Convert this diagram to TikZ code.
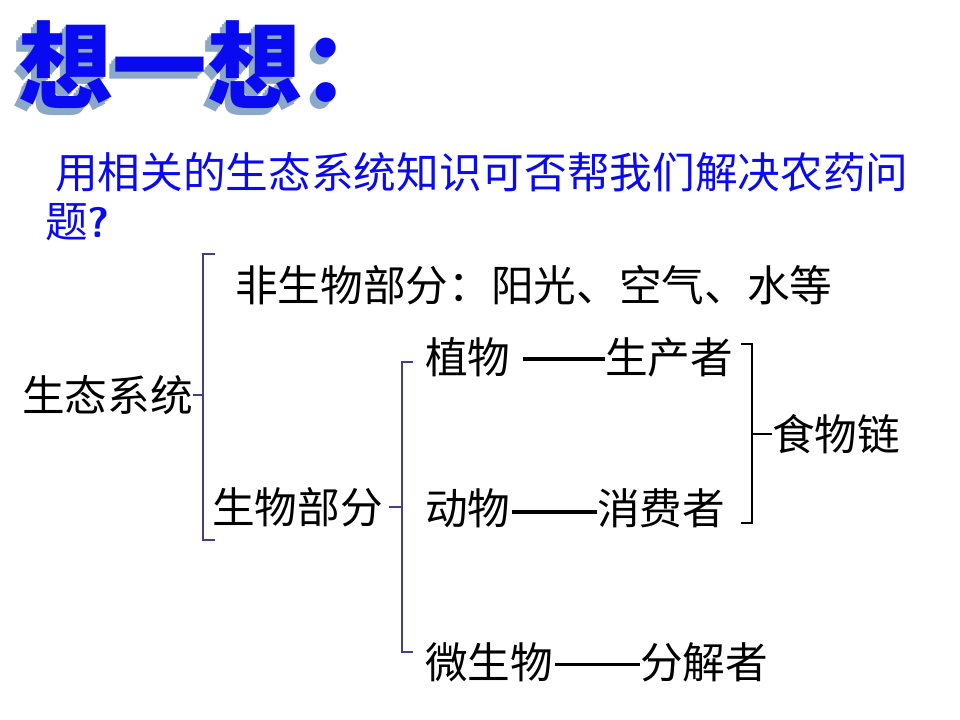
\documentclass[tikz,border=0pt]{standalone}
\usepackage{fontspec}
\newfontfamily\cjk{Noto Sans CJK SC}
\usetikzlibrary{positioning}
\definecolor{tBlue}{RGB}{10,10,240}
\definecolor{tShade}{RGB}{140,168,200}
\definecolor{bracePurple}{RGB}{70,62,140}
% one shifted copy of the heading, for its extruded shadow
\newcommand{\headlayer}[2]{\rlap{\kern#1\raisebox{#2}{\textcolor{tShade}{想一想：}}}}

\begin{document}
\begin{tikzpicture}[
	x=0.75pt,y=-0.75pt,
	txt/.style={anchor=west,inner sep=0pt,font=\cjk\fontsize{32}{36}\selectfont},
	head/.style={anchor=west,inner sep=0pt,font=\cjk\bfseries\fontsize{71}{80}\selectfont},
	brace/.style={draw=bracePurple,line width=1.1pt},
	rbrace/.style={draw=black,line width=1.5pt},
	dashline/.style={draw=black,line width=2.6pt}
	]
	\useasboundingbox (0,0) rectangle (960,720);
	\node[head,text=tBlue](title) at (18,68) {\headlayer{-4.5pt}{-5pt}\headlayer{-3pt}{-3.3pt}\headlayer{-1.5pt}{-1.6pt}想一想：};
	\node[txt,text=tBlue](q1) at (55,172) {用相关的生态系统知识可否帮我们解决农药问};
	\node[txt,text=tBlue](q2) at (45,222) {题\textbf{\sffamily ?}};
	% ecosystem tree
	\node[txt](sys) at (22,395) {生态系统};
	\node[txt](abio) at (235,285) {非生物部分：阳光、空气、水等};
	\node[txt](bio) at (212,507) {生物部分};
	\draw[brace] (215,254) -| (203,540) -- (215,540);
	\draw[brace] (sys.east) -- (sys.east -| 203,0);
	\node[txt](plant) at (425,357) {植物};
	\node[txt](animal) at (425,508) {动物};
	\node[txt](micro) at (425,662) {微生物};
	\draw[brace] (413,362) -| (402,652) -- (413,652);
	\draw[brace] (bio.east) ++(4pt,0) -- (402,507);
	\node[txt](prod) at (605,357) {生产者};
	\node[txt](cons) at (597,508) {消费者};
	\node[txt](deco) at (640,662) {分解者};
	\draw[dashline] ([xshift=9pt,yshift=-1.5pt]plant.east) -- ([yshift=-1.5pt]prod.west);
	\draw[dashline] ([xshift=1pt,yshift=-3pt]animal.east) -- ([yshift=-3pt]cons.west);
	\draw[dashline] ([xshift=1pt,yshift=-2pt]micro.east) -- ([yshift=-2pt]deco.west);
	% food chain bracket
	\node[txt](chain) at (772,434) {食物链};
	\draw[rbrace] (741,344) -| (752,523) -- (741,523);
	\draw[rbrace] (752,434) -- (chain.west);
\end{tikzpicture}
\end{document}
